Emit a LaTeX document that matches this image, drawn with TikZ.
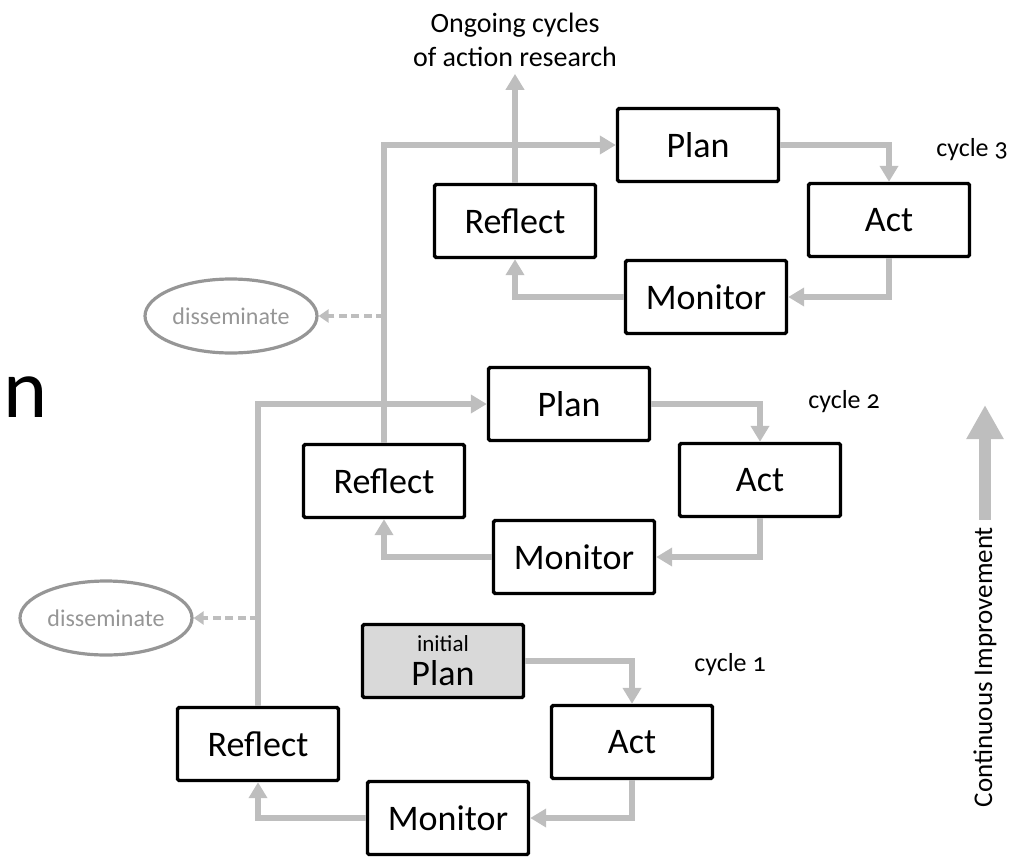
\documentclass[tikz,border=0pt]{standalone}
\usepackage{fontspec}
\setmainfont{Carlito}
\newfontfamily\oldstylefont[Numbers=OldStyle]{Carlito}
\usetikzlibrary{arrows.meta,positioning,shapes.geometric}
\definecolor{flowgray}{RGB}{190,190,190}
\definecolor{textgray}{RGB}{150,150,150}
\definecolor{planfill}{RGB}{217,217,217}

\begin{document}
\begin{tikzpicture}[
    x=0.5pt, y=-0.5pt,
    stage/.style={draw, line width=1.7pt, rounded corners=0.8pt, minimum width=80.5pt, minimum height=36.5pt, inner sep=0pt, font=\fontsize{18}{20}\selectfont},
    flow/.style={line width=3pt, flowgray, -{Triangle[length=8pt,width=9pt]}},
    share/.style={line width=1.7pt, flowgray, dash pattern=on 4pt off 2.2pt, -{Triangle[length=5pt,width=6.5pt]}},
    outlet/.style={ellipse, draw=textgray, line width=1.6pt, minimum width=86pt, minimum height=37pt, inner sep=0pt, text=textgray, font=\fontsize{12}{14}\selectfont},
    cyclelabel/.style={font=\oldstylefont\fontsize{13}{15}\selectfont},
    improve/.style={line width=6pt, flowgray, -{Triangle[length=17pt,width=17.5pt]}}
  ]
  \useasboundingbox (0,0) rectangle (1021,856);

  % cycle 1
  \node[stage, fill=planfill, align=center] (plan1) at (443,661) {{\fontsize{11.5}{12}\selectfont initial}\\[-3pt]Plan};
  \node[stage] (act1) at (632,742) {Act};
  \node[stage] (mon1) at (448,818) {Monitor};
  \node[stage] (refl1) at (258,744) {Reflect};
  \node[cyclelabel] (lab1) at (730,665) {cycle 1};

  % cycle 2
  \node[stage] (plan2) at (569,404) {Plan};
  \node[stage] (act2) at (760,480) {Act};
  \node[stage] (mon2) at (574,557) {Monitor};
  \node[stage] (refl2) at (384,481) {Reflect};
  \node[cyclelabel] (lab2) at (844,402) {cycle 2};

  % cycle 3
  \node[stage] (plan3) at (698,145) {Plan};
  \node[stage] (act3) at (889,220) {Act};
  \node[stage] (mon3) at (706,297) {Monitor};
  \node[stage] (refl3) at (515,221) {Reflect};
  \node[cyclelabel] (lab3) at (972,150) {cycle 3};

  \node[outlet] (diss1) at (106,618) {disseminate};
  \node[outlet] (diss2) at (231,316) {disseminate};
  \node[align=center, font=\fontsize{14}{17}\selectfont] (ongoing) at (515,40) {Ongoing cycles\\of action research};
  \node[font=\fontsize{42}{42}\selectfont, anchor=base west] (cut) at (-4,417) {n};

  \draw[flow] (plan1.east) -| (act1.north);
  \draw[flow] (act1.south) |- (mon1.east);
  \draw[flow] (mon1.west) -| (refl1.south);
  \draw[flow] (refl1.north) |- (plan2.west);

  \draw[flow] (plan2.east) -| (act2.north);
  \draw[flow] (act2.south) |- (mon2.east);
  \draw[flow] (mon2.west) -| (refl2.south);
  \draw[flow] (refl2.north) |- (plan3.west);

  \draw[flow] (plan3.east) -| (act3.north);
  \draw[flow] (act3.south) |- (mon3.east);
  \draw[flow] (mon3.west) -| (refl3.south);
  \draw[flow] (refl3.north) -- (ongoing.south);

  \draw[share] (refl1.north |- diss1.east) -- (diss1.east);
  \draw[share] (refl2.north |- diss2.east) -- (diss2.east);

  % continuous improvement
  \node[rotate=90, font=\fontsize{13.5}{16}\selectfont] (ci) at (985,667) {Continuous Improvement};
  \coordinate (cihead) at (985,405);
  \draw[improve] (ci.east) -- (cihead);
\end{tikzpicture}
\end{document}
